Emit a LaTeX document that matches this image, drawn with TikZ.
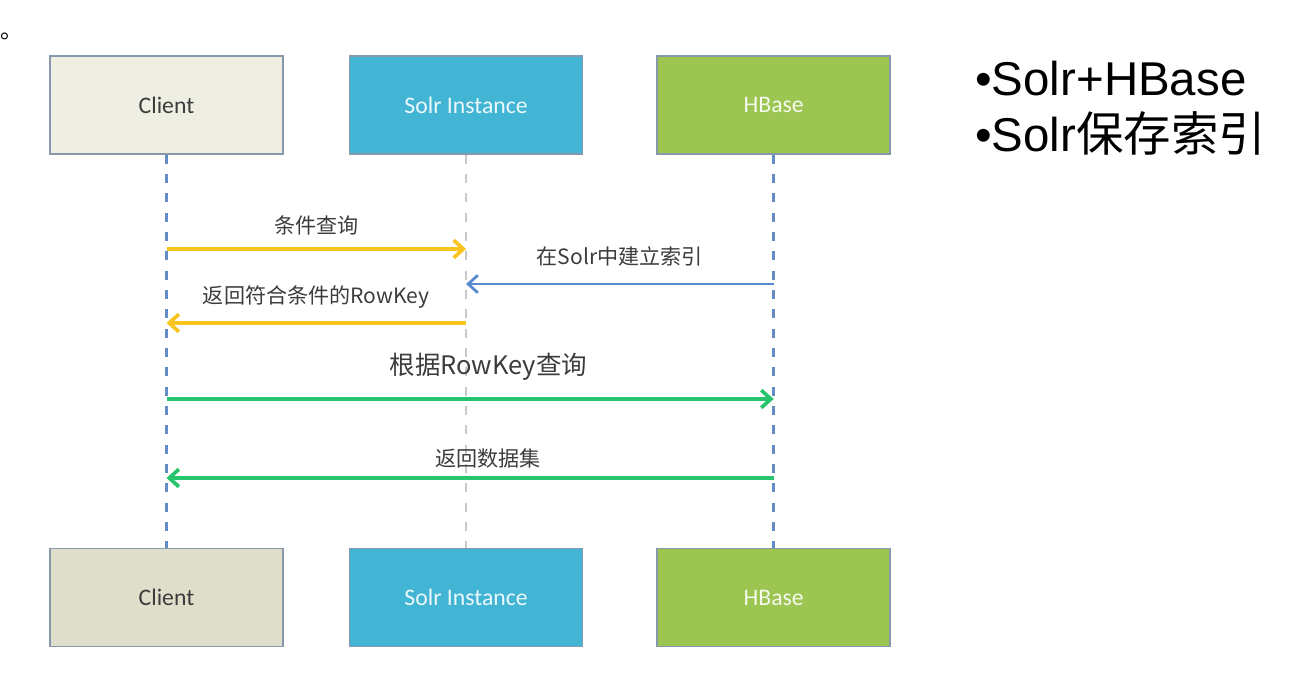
\documentclass[tikz,border=0pt]{standalone}
\usepackage{fontspec}
\setmainfont{Liberation Sans}
\newfontfamily\cjk{Noto Sans CJK SC}
\newfontfamily\boxfont{Carlito}
\usetikzlibrary{arrows.meta, positioning}
\definecolor{clientbg}{RGB}{239,238,227}
\definecolor{clientbgdark}{RGB}{223,222,202}
\definecolor{solrblue}{RGB}{66,180,212}
\definecolor{hbasegreen}{RGB}{156,197,82}
\definecolor{boxedge}{RGB}{135,152,172}
\definecolor{lifeblue}{RGB}{100,140,195}
\definecolor{lifegray}{RGB}{200,200,200}
\definecolor{msgyellow}{RGB}{247,197,30}
\definecolor{msggreen}{RGB}{38,196,108}
\definecolor{msgblue}{RGB}{90,138,208}
\definecolor{labelgray}{RGB}{60,60,60}
\tikzset{
  % Participant box (parameterized by fill colour)
  actorbox/.style={
    rectangle, minimum width=4.66cm, minimum height=1.96cm, draw=boxedge,
    line width=0.9pt, fill=#1, font=\boxfont\fontsize{13.5}{16}\selectfont
  },
  lifeline/.style={dash pattern=on 5pt off 6pt, line width=1.4pt, color=#1},
  % Message arrow (parameterized by colour)
  msgarrow/.style={-{Straight Barb[length=5.5pt, width=10pt]}, line width=2.1pt, color=#1},
  msglabel/.style={font=\cjk\fontsize{12}{14}\selectfont, text=labelgray}
}
\begin{document}
\begin{tikzpicture}
  \useasboundingbox (0,0) rectangle (25.82,-13.68);

  % Top row
  \node[actorbox=clientbg, text=labelgray] (client) at (3.33,-2.10) {Client};
  \node[actorbox=solrblue, text=white!90!solrblue, right=1.30cm of client] (solr) {Solr Instance};
  \node[actorbox=hbasegreen, text=white!90!hbasegreen, right=1.46cm of solr] (hbase) {HBase};

  % Bottom row
  \node[actorbox=clientbgdark, text=labelgray, below=7.86cm of client] (clientb) {Client};
  \node[actorbox=solrblue, text=white!90!solrblue, below=7.86cm of solr] (solrb) {Solr Instance};
  \node[actorbox=hbasegreen, text=white!90!hbasegreen, below=7.86cm of hbase] (hbaseb) {HBase};

  % Lifelines
  \draw[lifeline=lifeblue] (client) -- (clientb);
  \draw[lifeline=lifegray, line width=1pt] (solr) -- (solrb);
  \draw[lifeline=lifeblue] (hbase) -- (hbaseb);

  % Message rows
  \foreach \row/\y in {rowa/4.98, rowb/5.68, rowc/6.46, rowd/7.98, rowe/9.56}
    \coordinate (\row) at (0,-\y);

  % Messages
  \draw[msgarrow=msgyellow] (client |- rowa) -- (solr |- rowa)
    node[msglabel, midway, yshift=0.48cm] {条件查询};
  \draw[msgarrow=msgblue, line width=1.6pt] (hbase |- rowb) -- (solr |- rowb)
    node[msglabel, midway, yshift=0.56cm] {在Solr中建立索引};
  \draw[msgarrow=msgyellow] (solr |- rowc) -- (client |- rowc)
    node[msglabel, midway, yshift=0.52cm] {返回符合条件的RowKey};
  \draw[msgarrow=msggreen] (client |- rowd) -- (hbase |- rowd)
    node[msglabel, pos=0.53, yshift=0.64cm, font=\cjk\fontsize{14.5}{17}\selectfont] {根据RowKey查询};
  \draw[msgarrow=msggreen] (hbase |- rowe) -- (client |- rowe)
    node[msglabel, pos=0.47, yshift=0.40cm] {返回数据集};

  % Notes
  \node[anchor=north west, align=left, inner sep=0pt, font=\fontsize{27}{31.8}\selectfont] (notes) at (19.5,-1.22)
    {•Solr+HBase\\•Solr{\cjk 保存索引}};
  \node[anchor=base west, inner sep=0pt, font=\cjk\fontsize{13}{15}\selectfont] (stop) at (0,-0.76) {。};
\end{tikzpicture}
\end{document}
